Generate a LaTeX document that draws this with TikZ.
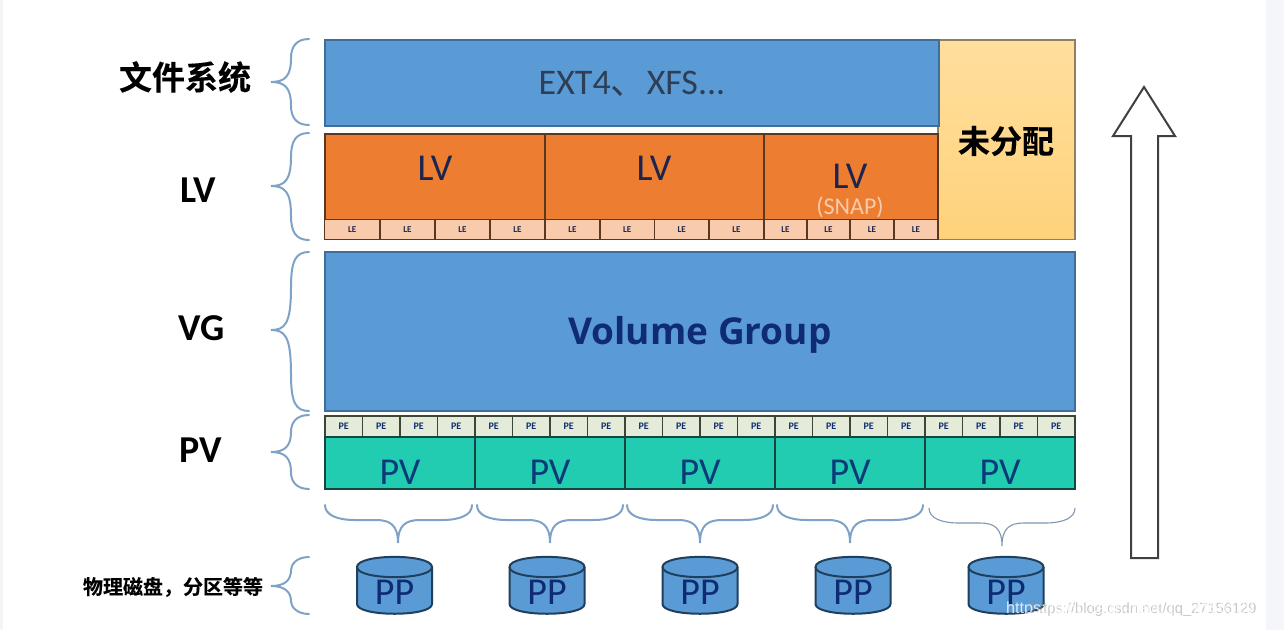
\documentclass[tikz,border=0pt]{standalone}
\usepackage{fontspec}
\setmainfont{Carlito}
\newfontfamily\cjk{Noto Sans CJK SC}
\newfontfamily\cjkb[FakeBold=0.25]{Noto Sans CJK SC Bold}
\newfontfamily\volf{Open Sans}
\newfontfamily\markf{Liberation Sans}
\definecolor{blueF}{HTML}{5B9BD5}
\definecolor{blueE}{HTML}{3F6E98}
\definecolor{orF}{HTML}{ED7D31}
\definecolor{orE}{HTML}{5A3820}
\definecolor{leF}{HTML}{F8CBAD}
\definecolor{tealF}{HTML}{22CCB0}
\definecolor{tealE}{HTML}{14463F}
\definecolor{peF}{HTML}{E4ECD9}
\definecolor{peE}{HTML}{3C4638}
\definecolor{braceC}{HTML}{7FA3C7}
\definecolor{navy}{HTML}{0F2C72}
\definecolor{pvtxt}{HTML}{0B3A78}
\definecolor{lvtxt}{HTML}{1B2550}
\definecolor{band}{HTML}{F4F6FA}
\definecolor{freeT}{HTML}{FFDF9E}
\definecolor{freeB}{HTML}{FFD27A}
\definecolor{freeE}{HTML}{8E8060}
\definecolor{cylE}{HTML}{1F3F5C}
\definecolor{extT}{HTML}{2E3F55}
\tikzset{
  x=1pt,y=-1pt,
  every node/.style={inner sep=0pt,outer sep=0pt},
  cell/.style={draw,rectangle,anchor=north west},
  fsbox/.style={cell,fill=blueF,draw=blueE,line width=2pt},
  lvbox/.style={cell,fill=orF,draw=orE,line width=2pt},
  lebox/.style={cell,fill=leF,draw=orE,line width=1.6pt,text=lvtxt,font=\bfseries\fontsize{9}{9}\selectfont},
  pvbox/.style={cell,fill=tealF,draw=tealE,line width=2pt},
  pebox/.style={cell,fill=peF,draw=peE,line width=1.8pt,text=navy,font=\bfseries\fontsize{10}{10}\selectfont},
  bigtxt/.style={font=\fontsize{38}{38}\selectfont},
  sidelab/.style={font=\bfseries\fontsize{38}{38}\selectfont,text=black},
  bracestyle/.style={draw=braceC,line width=2pt,line cap=round},
  cyl/.style={fill=blueF,draw=cylE,line width=2pt},
}
\newcommand{\leftbrace}[3]{% top, tip, bottom
  \draw[bracestyle] (309,#1) .. controls (296,#1) and (291,{#1+8}) .. (291,{#1+(#2-#1)*0.45})
    .. controls (291,{#2-6}) and (285,#2) .. (271,#2)
    .. controls (285,#2) and (291,{#2+6}) .. (291,{#3-(#3-#2)*0.45})
    .. controls (291,{#3-8}) and (296,#3) .. (309,#3);}
\newcommand{\botbrace}[5][bracestyle]{% left, tip, right, top
  \draw[#1] (#2,#5) .. controls (#2,{#5+10}) and ({#2+12},{#5+15}) .. ({#2+30},{#5+15})
    -- ({#3-22},{#5+15}) .. controls ({#3-8},{#5+15}) and (#3,{#5+20}) .. (#3,{#5+38})
    .. controls (#3,{#5+20}) and ({#3+8},{#5+15}) .. ({#3+22},{#5+15})
    -- ({#4-30},{#5+15}) .. controls ({#4-12},{#5+15}) and (#4,{#5+10}) .. (#4,#5);}
\newcommand{\disk}[2]{% name, centre x
  \path[cyl] ({#2-37.5},567) -- ({#2-37.5},604)
     .. controls ({#2-37.5},{604+13}) and ({#2+37.5},{604+13}) .. ({#2+37.5},604)
     -- ({#2+37.5},567)
     .. controls ({#2+37.5},{567-13.5}) and ({#2-37.5},{567-13.5}) .. ({#2-37.5},567) -- cycle;
  \draw[cyl,fill=none] ({#2-37.5},567) .. controls ({#2-37.5},{567+13.5}) and ({#2+37.5},{567+13.5}) .. ({#2+37.5},567);
  \node[text=navy,font=\fontsize{38}{38}\selectfont] (#1) at (#2,592) {PP};}
\begin{document}
\begin{tikzpicture}
\useasboundingbox (0,0) rectangle (1284,630);
\fill[white] (0,0) rectangle (1284,630);
\fill[band] (1266,0) rectangle (1284,630);
\fill[black!4] (0,0) rectangle (2.5,630);

% file system and unallocated
\node[cell,minimum width=137pt,minimum height=199.5pt,draw=freeE,line width=1.2pt,top color=freeT,bottom color=freeB] (free) at (938,40) {};
\node[font=\cjkb\fontsize{32}{32}\selectfont,text=black] (freet) at (1006,141) {未分配};
\node[fsbox,minimum width=614pt,minimum height=86pt] (fs) at (324.5,39.5) {};
\node[font=\fontsize{36}{36}\selectfont,text=extT] (fst) at (632,84) {EXT4{\cjk 、}XFS...};

% LV row
\node[lvbox,minimum width=221pt,minimum height=85.5pt] (lva) at (324.5,134) {};
\node[lvbox,minimum width=219pt,minimum height=85.5pt] (lvb) at (545,134) {};
\node[lvbox,minimum width=174pt,minimum height=85.5pt] (lvc) at (764,134) {};
\node[bigtxt,text=lvtxt] (lvat) at (435,168) {LV};
\node[bigtxt,text=lvtxt] (lvbt) at (654,168) {LV};
\node[bigtxt,text=lvtxt] (lvct) at (850,176) {LV};
\node[text=leF,font=\fontsize{24}{24}\selectfont] (snap) at (850,207) {(SNAP)};
\foreach \i/\a/\b in {1/324.5/380,2/380/435,3/435/490,4/490/545,5/545/600,6/600/654.5,7/654.5/709,8/709/764,9/764/807,10/807/850,11/850/894,12/894/938}{
  \node[lebox,minimum width=\b pt-\a pt,minimum height=20pt,align=center] (le\i) at (\a,219.5) {LE};
}

% volume group
\node[fsbox,minimum width=750.5pt,minimum height=159pt] (vg) at (324.5,252) {};
\node[font=\volf\bfseries\fontsize{37}{37}\selectfont,text=navy] (vgt) at (700,335) {Volume Group};

% PV row
\foreach \i in {0,...,19}{
  \pgfmathsetmacro{\px}{325+37.5*\i}
  \node[pebox,minimum width=37.5pt,minimum height=21pt] (pe\i) at (\px,416) {PE};
}
\foreach \i/\cx in {0/400,1/550,2/700,3/850,4/1000}{
  \pgfmathsetmacro{\px}{\cx-75}
  \node[pvbox,minimum width=150pt,minimum height=52pt] (pv\i) at (\px,437) {};
  \node[bigtxt,text=pvtxt] (pvt\i) at (\cx,472) {PV};
}

% side labels
\node[font=\cjkb\fontsize{33}{33}\selectfont,text=black] (lab1) at (185,77) {文件系统};
\node[sidelab] (lab2) at (198,190) {LV};
\node[sidelab] (lab3) at (202,328) {VG};
\node[sidelab] (lab4) at (201,450) {PV};
\node[font=\cjkb\fontsize{20}{20}\selectfont,text=black] (lab5) at (173,587) {物理磁盘，分区等等};

% left braces
\leftbrace{39}{82}{125}
\leftbrace{133}{186}{240}
\leftbrace{252}{330}{411}
\leftbrace{415}{452}{489}
\leftbrace{557}{586}{614}

% bottom braces
\botbrace{325}{398}{472}{505}
\botbrace{477}{550}{623}{505}
\botbrace{627}{700}{773}{505}
\botbrace{777}{850}{923}{505}
\botbrace[draw=braceC!70!gray,line width=1.1pt]{929}{1002}{1075}{508}

% disks
\disk{pp1}{394.5}
\disk{pp2}{547}
\disk{pp3}{700}
\disk{pp4}{853}
\disk{pp5}{1006}

% arrow
\draw[draw=black!75,line width=2pt,fill=white,line join=miter] (1144,87) -- (1175,136) -- (1158,136) -- (1158,558) -- (1131,558) -- (1131,136) -- (1113,136) -- cycle;

% watermark
\node[anchor=west,text=black!40,font=\markf\fontsize{14.7}{15}\selectfont,opacity=.55] (wm1) at (1031,610) {https://blog.csdn.net/qq\_27156129};
\node[anchor=west,text=white,font=\markf\fontsize{16.2}{17}\selectfont,opacity=.8] (wm2) at (1006,609) {https://blog.csdn.net/qq\_27156129};
\end{tikzpicture}
\end{document}
